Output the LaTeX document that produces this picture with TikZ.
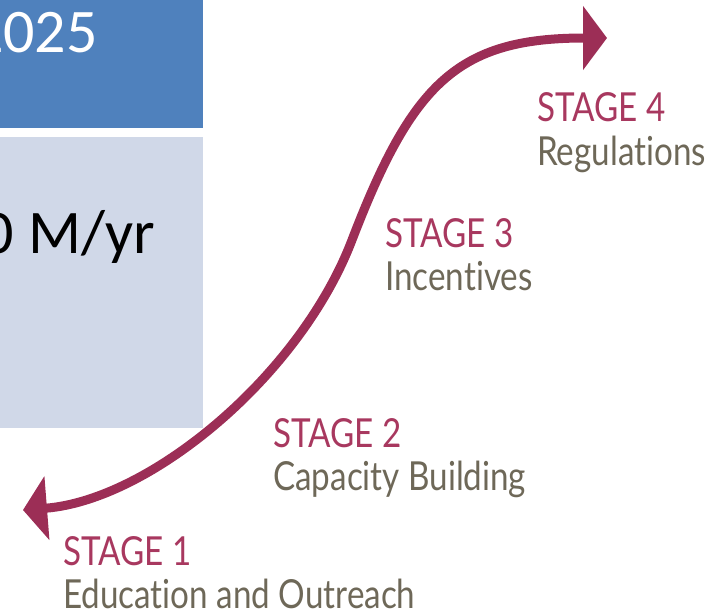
\documentclass[tikz,border=0pt]{standalone}
\usepackage{fontspec}
\usetikzlibrary{arrows.meta}
\newfontfamily\boxfont{Carlito}
\newfontfamily\stagefont[FakeStretch=0.83,Ligatures=CommonOff]{Lato}
\definecolor{hdrblue}{RGB}{79,129,189}
\definecolor{rowblue}{RGB}{208,216,232}
\definecolor{curvered}{RGB}{156,46,86}
\definecolor{stagered}{RGB}{168,56,95}
\definecolor{stagegray}{RGB}{110,104,88}

\begin{document}
\begin{tikzpicture}
[x=1pt,y=-1pt,
stagehead/.style={anchor=base west,inner sep=0pt,text=stagered,
	font=\stagefont\fontsize{40}{44}\selectfont},
stagedesc/.style={anchor=base west,inner sep=0pt,text=stagegray,
	font=\stagefont\fontsize{40}{44}\selectfont},
bigtext/.style={anchor=base east,inner sep=0pt,
	font=\boxfont\fontsize{62}{70}\selectfont}]
\clip (0,0) rectangle (728,615);

% table cells
\fill[hdrblue] (0,0) rectangle (203,128);
\fill[rowblue] (0,137) rectangle (203,428);
\node[bigtext,text=white] (year) at (98,53) {2025};
\node[bigtext] (cost) at (155,253) {0 M/yr};

% s-curve
\coordinate (tipL) at (23,510);
\coordinate (mid) at (352,240);
\coordinate (tipR) at (607,38);
\draw[curvered,line width=9pt,{Triangle[length=24pt,width=63pt]}-{Triangle[length=24pt,width=63pt]}]
(tipL) .. controls (150,500) and (300,376) .. (mid)
.. controls (412,84) and (457,38) .. (tipR);

% stages
\node[stagehead] (h1) at (63,565) {STAGE 1};
\node[stagedesc] (d1) at ([yshift=-43pt]h1.base west) {Education and Outreach};
\node[stagehead] (h2) at (273,447) {STAGE 2};
\node[stagedesc] (d2) at ([yshift=-43pt]h2.base west) {Capacity Building};
\node[stagehead] (h3) at (385,247) {STAGE 3};
\node[stagedesc] (d3) at ([yshift=-43pt]h3.base west) {Incentives};
\node[stagehead] (h4) at (537,122) {STAGE 4};
\node[stagedesc] (d4) at ([yshift=-43pt]h4.base west) {Regulations};
\end{tikzpicture}
\end{document}
